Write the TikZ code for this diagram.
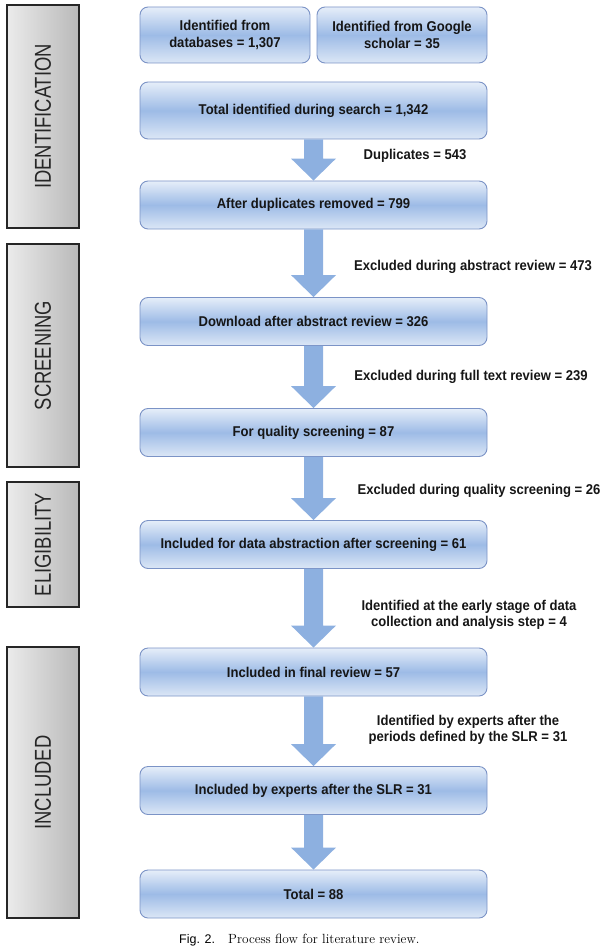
\documentclass[tikz,border=0pt]{standalone}
\usepackage{fontspec}
\newfontfamily\arial{Liberation Sans}
\newfontfamily\arialn[FakeStretch=0.92]{Liberation Sans}
\usetikzlibrary{calc}
\definecolor{boxtop}{HTML}{E6EEF9}
\definecolor{boxmid}{HTML}{9DBBE6}
\definecolor{boxbot}{HTML}{DCE7F6}
\definecolor{boxline}{HTML}{7B93C6}
\definecolor{arrowcol}{HTML}{8DB0E0}
\definecolor{sideleft}{HTML}{EBEBEB}
\definecolor{sideright}{HTML}{B9B9B9}
\definecolor{txt}{HTML}{161616}
\tikzset{
  flowbox/.style={draw=boxline, line width=0.9pt, rounded corners=8pt,
    top color=boxtop, bottom color=boxbot, middle color=boxmid,
    minimum width=347, minimum height=48, inner sep=2pt,
    font=\arialn\bfseries\fontsize{14.2}{17.5}\selectfont, text=txt, align=center},
  smallbox/.style={flowbox, minimum width=170, minimum height=56},
  sidebox/.style={draw=black!85, line width=1.3pt, left color=sideleft, right color=sideright,
    minimum width=72, inner sep=0pt},
  sidetext/.style={rotate=90, font=\arial\fontsize{23}{23}\selectfont, text=black!85, inner sep=0pt},
  note/.style={font=\arialn\bfseries\fontsize{14.2}{16}\selectfont, text=txt, align=center, inner sep=0pt}
}
\newcommand{\bigarrow}[2]{%
  \fill[arrowcol] ($(#1.south)+(-9.5,0)$) -- ($(#2.north)+(-9.5,-22)$) -- ($(#2.north)+(-22.5,-22)$)
    -- (#2.north) -- ($(#2.north)+(22.5,-22)$) -- ($(#2.north)+(9.5,-22)$) -- ($(#1.south)+(9.5,0)$) -- cycle;}
\begin{document}
\begin{tikzpicture}[x=1pt, y=-1pt]
\useasboundingbox (0,0) rectangle (609,952);
% side boxes
\node[sidebox, minimum height=223] (sid) at (43,116.5) {};
\node[sidetext] (tid) at (sid.center) {\scalebox{0.8}[1]{IDENTIFICATION}};
\node[sidebox, minimum height=223] (sscr) at (43,355.5) {};
\node[sidetext] (tscr) at (sscr.center) {\scalebox{0.8}[1]{SCREENING}};
\node[sidebox, minimum height=125] (selg) at (43,544.5) {};
\node[sidetext] (telg) at (selg.center) {\scalebox{0.8}[1]{ELIGIBILITY}};
\node[sidebox, minimum height=271] (sinc) at (43,782.5) {};
\node[sidetext] (tinc) at (sinc.center) {\scalebox{0.8}[1]{INCLUDED}};
% boxes
\node[smallbox] (db) at (225,35) {Identified from\\databases = 1,307};
\node[smallbox] (gs) at (402,35) {Identified from Google\\scholar = 35};
\node[flowbox, minimum height=57] (tot) at (313.5,110.5) {Total identified during search = 1,342};
\node[flowbox] (dup) at (313.5,205) {After duplicates removed = 799};
\node[flowbox] (dl) at (313.5,321.5) {Download after abstract review = 326};
\node[flowbox] (qs) at (313.5,432.5) {For quality screening = 87};
\node[flowbox] (inc) at (313.5,544.5) {Included for data abstraction after screening = 61};
\node[flowbox] (fin) at (313.5,672) {Included in final review = 57};
\node[flowbox] (exp) at (313.5,790.5) {Included by experts after the SLR = 31};
\node[flowbox] (all) at (313.5,894) {Total = 88};
% arrows
\bigarrow{tot}{dup}
\bigarrow{dup}{dl}
\bigarrow{dl}{qs}
\bigarrow{qs}{inc}
\bigarrow{inc}{fin}
\bigarrow{fin}{exp}
\bigarrow{exp}{all}
% notes
\node[note] (n1) at (415,156) {Duplicates = 543};
\node[note] (n2) at (473,267) {Excluded during abstract review = 473};
\node[note] (n3) at (471,377) {Excluded during full text review = 239};
\node[note] (n4) at (479,491) {Excluded during quality screening = 26};
\node[note] (n5) at (469,615) {Identified at the early stage of data\\collection and analysis step = 4};
\node[note] (n6) at (468,730) {Identified by experts after the\\periods defined by the SLR = 31};
% caption
\node[anchor=base west, inner sep=0pt, font=\arial\fontsize{12.5}{14}\selectfont] (cf) at (179,943) {Fig. 2.};
\node[anchor=base west, inner sep=0pt, font=\fontsize{13.3}{15}\selectfont] (ct) at (228,943) {Process flow for literature review.};
\end{tikzpicture}
\end{document}
